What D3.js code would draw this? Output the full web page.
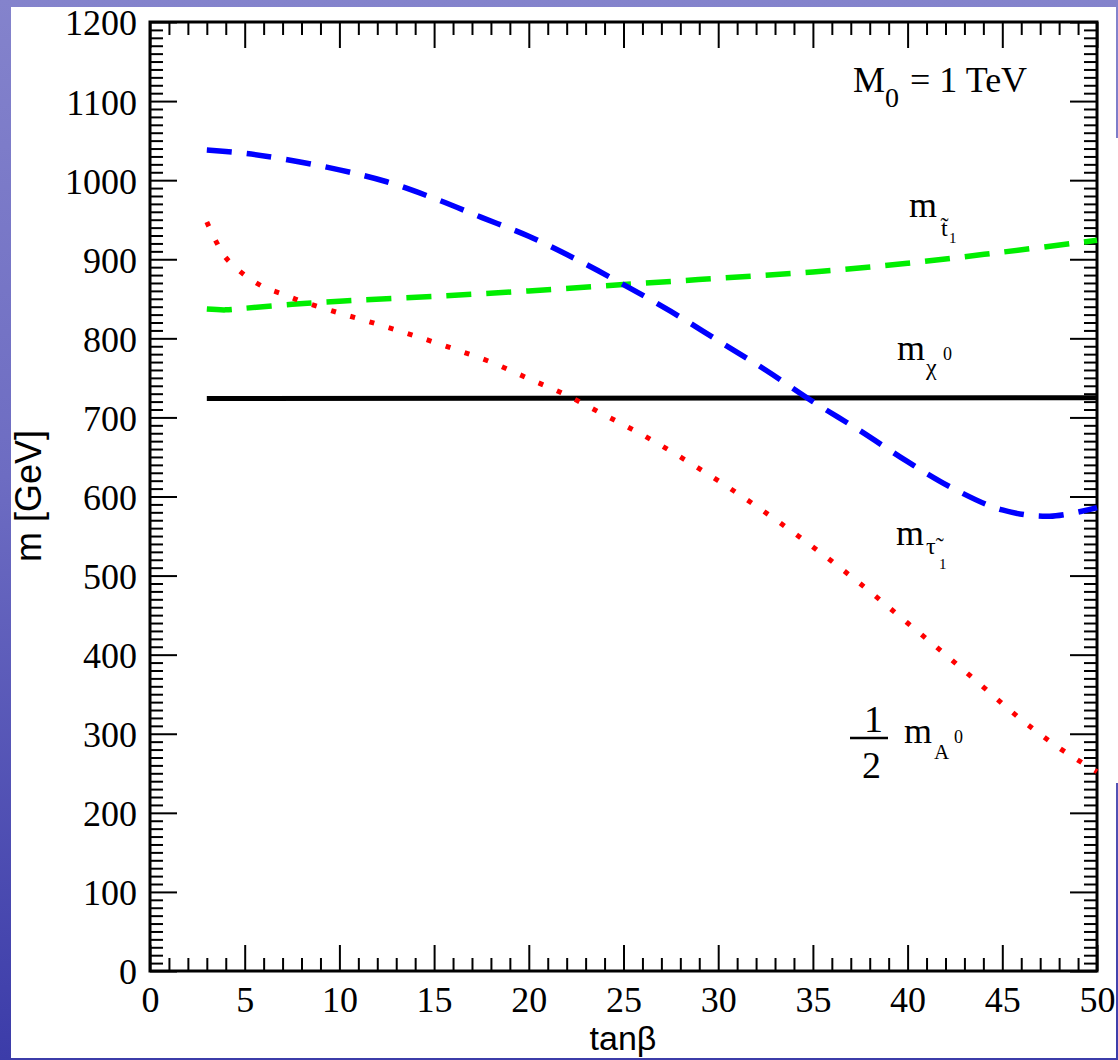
<!DOCTYPE html>
<html><head><meta charset="utf-8">
<script src="https://cdn.jsdelivr.net/npm/d3@7"></script>
<style>html,body{margin:0;padding:0;overflow:hidden;background:#fff} svg{display:block}</style>
</head><body><svg id="c" width="1118" height="1060"></svg>
<script>
// ---- data ----
const xTickLabels = [0,5,10,15,20,25,30,35,40,45,50];
const yTickLabels = [0,100,200,300,400,500,600,700,800,900,1000,1100,1200];

const blueTanB = [3,5,7,10,12.5,15,17.5,20,22.5,25,27.5,30,32.5,35,37.5,40,42.5,45,47.5,50];
const blueMass = [1038,1034,1027,1013,998,977,953,929,900,868,834,797,760,720,683,644,609,583,575,586];

const greenTanB = [3,4,5,7.5,10,15,20,25,30,35,40,45,50];
const greenMass = [837,836,838,843,847,853,860,868,876,884,895,909,924];

const redTanB = [3,3.5,4,5,6,7,8,10,12,14,16,18,20,22,24,26,28,30,32,34,36,38,40,42,44,46,48,50];
const redMass = [947,922,902,880,865,856,847,832,818,803,787,770,749,728,703,678,650,620,588,554,518,480,440,400,359,318,282,252];

const blackTanB = [3,50];
const blackMass = [724,725];

// ---- layout ----
const svg = d3.select('#c');
const W = 1118, H = 1060;
const x = d3.scaleLinear().domain([0,50]).range([150,1097]);
const y = d3.scaleLinear().domain([0,1200]).range([971,22]);
const serif = '"Liberation Serif","Times New Roman",Times,serif';
const sans = '"Liberation Sans",Arial,Helvetica,sans-serif';

// slide background
const defs = svg.append('defs');
const grad = defs.append('linearGradient').attr('id','bg').attr('x1',0).attr('y1',0).attr('x2',0).attr('y2',1);
grad.append('stop').attr('offset','0%').attr('stop-color','#8483cc');
grad.append('stop').attr('offset','45%').attr('stop-color','#6d6cc2');
grad.append('stop').attr('offset','100%').attr('stop-color','#3c3ca9');
svg.append('rect').attr('width',W).attr('height',H).attr('fill','url(#bg)');
svg.append('rect').attr('x',11).attr('y',7).attr('width',1105).attr('height',1051).attr('fill','#fff');
svg.append('rect').attr('x',1116).attr('y',138).attr('width',2).attr('height',645).attr('fill','#fff');

// ---- axes ----
function clean(g){
  g.select('.domain').remove();
  g.selectAll('line').attr('stroke','#000').attr('stroke-width',2);
}
const xMinor = d3.range(0,51,1).filter(d => d % 5 !== 0);
const yMinor = d3.range(0,1201,10).filter(d => d % 100 !== 0);

// bottom
svg.append('g').attr('transform',`translate(0,${y(0)})`)
  .call(d3.axisBottom(x).tickValues(xMinor).tickSize(-13).tickFormat(''))
  .call(clean);
const gb = svg.append('g').attr('transform',`translate(0,${y(0)})`)
  .call(d3.axisBottom(x).tickValues(xTickLabels).tickSize(-26).tickFormat(d3.format('d')))
  .call(clean);
gb.selectAll('text').attr('y',41).attr('dy',0)
  .attr('font-family',serif).attr('font-size',36).attr('fill','#000');
// top
svg.append('g').attr('transform',`translate(0,${y(1200)})`)
  .call(d3.axisTop(x).tickValues(xMinor).tickSize(-13).tickFormat(''))
  .call(clean);
svg.append('g').attr('transform',`translate(0,${y(1200)})`)
  .call(d3.axisTop(x).tickValues(xTickLabels).tickSize(-26).tickFormat(''))
  .call(clean);
// left
svg.append('g').attr('transform',`translate(${x(0)},0)`)
  .call(d3.axisLeft(y).tickValues(yMinor).tickSize(-13).tickFormat(''))
  .call(clean);
const gl = svg.append('g').attr('transform',`translate(${x(0)},0)`)
  .call(d3.axisLeft(y).tickValues(yTickLabels).tickSize(-27).tickFormat(d3.format('d')))
  .call(clean);
gl.selectAll('text').attr('x',-13).attr('dy','0.36em')
  .attr('font-family',serif).attr('font-size',36).attr('fill','#000');
// right
svg.append('g').attr('transform',`translate(${x(50)},0)`)
  .call(d3.axisRight(y).tickValues(yMinor).tickSize(-13).tickFormat(''))
  .call(clean);
svg.append('g').attr('transform',`translate(${x(50)},0)`)
  .call(d3.axisRight(y).tickValues(yTickLabels).tickSize(-27).tickFormat(''))
  .call(clean);

// frame
svg.append('rect').attr('x',x(0)).attr('y',y(1200))
  .attr('width',x(50)-x(0)).attr('height',y(0)-y(1200))
  .attr('fill','none').attr('stroke','#000').attr('stroke-width',3);

// ---- curves ----
const line = d3.line().x(d => x(d[0])).y(d => y(d[1])).curve(d3.curveCatmullRom.alpha(0.5));
const zip = (a,b) => a.map((v,i) => [v,b[i]]);

svg.append('path').datum(zip(blackTanB,blackMass)).attr('d',line)
  .attr('fill','none').attr('stroke','#000').attr('stroke-width',5);
svg.append('path').datum(zip(greenTanB,greenMass)).attr('d',line)
  .attr('fill','none').attr('stroke','#00ee00').attr('stroke-width',5.5).attr('stroke-dasharray','25 15');
svg.append('path').datum(zip(redTanB,redMass)).attr('d',line)
  .attr('fill','none').attr('stroke','#ff0000').attr('stroke-width',5).attr('stroke-dasharray','5 15');
svg.append('path').datum(zip(blueTanB,blueMass)).attr('d',line)
  .attr('fill','none').attr('stroke','#0000ff').attr('stroke-width',5.5).attr('stroke-dasharray','25 15');

// ---- axis titles ----
svg.append('text').attr('x',623).attr('y',1050).attr('text-anchor','middle')
  .attr('font-family',sans).attr('font-size',34).attr('fill','#000').text('tanβ');
svg.append('text').attr('transform','translate(41,496) rotate(-90)').attr('text-anchor','middle')
  .attr('font-family',sans).attr('font-size',36).attr('fill','#000').text('m [GeV]');

// ---- annotations: each label is one <text> made of positioned tspans ----
function label(parts){
  const tx = svg.append('text').attr('font-family',serif).attr('fill','#000');
  parts.forEach(p => {
    tx.append('tspan').attr('x',p[0]).attr('y',p[1]).attr('font-size',p[3]).text(p[2]);
  });
  return tx;
}
// M0 = 1 TeV
label([[853,92,'M',36],[885,107,'0',28],[910,92,'= 1 TeV',36]]);
// m stop1 (t with combining tilde)
label([[909,217,'m',36],[941,236,'t\u0303',24],[949,243,'1',15]]);
// m chi0
label([[897,360,'m',36],[926,375,'χ',24],[943,360,'0',18]]);
// m stau1 (tau with combining tilde)
label([[896,545,'m',36],[926,554,'τ\u0303',24],[939,569,'1',15]]);
// 1/2 m_A0
label([[864,732,'1',38],[862,778,'2',38],[904,743,'m',36],[934,759,'A',21],[954,743,'0',18]]);
svg.append('line').attr('x1',850).attr('x2',888).attr('y1',738).attr('y2',738)
  .attr('stroke','#000').attr('stroke-width',2.5);
</script>
</body></html>
